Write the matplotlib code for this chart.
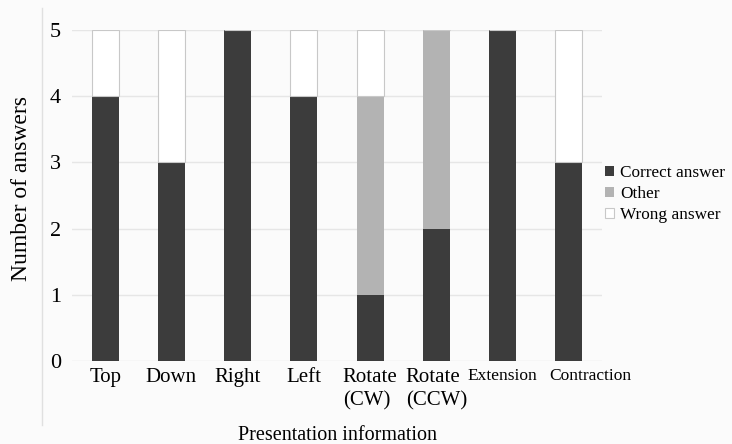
import matplotlib
matplotlib.use("Agg")
import matplotlib.pyplot as plt
import matplotlib.transforms as mtransforms
from matplotlib.lines import Line2D
import numpy as np

categories = ["Top", "Down", "Right", "Left", "Rotate\n(CW)", "Rotate\n(CCW)", "Extension", "Contraction"]
correct = [4, 3, 5, 4, 1, 2, 5, 3]
other = [0, 0, 0, 0, 3, 3, 0, 0]
wrong = [1, 2, 0, 1, 1, 0, 0, 2]

plt.rcParams['font.family'] = ['Liberation Serif', 'DejaVu Serif']

fig = plt.figure(figsize=(7.32, 4.44), dpi=100, facecolor='#fbfbfb')
W, H = 732, 444
ax = fig.add_axes([72 / W, 1 - 361 / H, 530 / W, 331 / H])
ax.set_facecolor('#fbfbfb')

x = np.arange(len(categories))
bw = 0.41
c_correct = np.array(correct)
c_other = np.array(other)
c_wrong = np.array(wrong)
ax.bar(x, c_correct, bw, color='#3c3c3c', label='Correct answer', zorder=3)
ax.bar(x, c_other, bw, bottom=c_correct, color='#b3b3b3', label='Other', zorder=3)
ax.bar(x, c_wrong, bw, bottom=c_correct + c_other, color='white', edgecolor='#c8c8c8',
       linewidth=0.8, label='Wrong answer', zorder=3)

ax.set_xlim(-0.5, len(categories) - 0.5)
ax.set_ylim(0, 5)
ax.set_yticks(range(6))
ax.yaxis.grid(True, color='#e6e6e6', linewidth=1.0, zorder=0)
for s in ax.spines.values():
    s.set_visible(False)
ax.tick_params(axis='both', length=0)
ax.tick_params(axis='y', labelsize=16, pad=8)
ax.set_xticks(x)
shown = [c if c != "Contraction" else "" for c in categories]
ax.set_xticklabels(shown, fontsize=15, linespacing=1.3)
for lbl in ax.get_xticklabels():
    lbl.set_multialignment('left')
    if lbl.get_text() == "Extension":
        lbl.set_fontsize(12.5)
ax.tick_params(axis='x', pad=5)

# Contraction label, nudged right as in the reference
ci = categories.index("Contraction")
trans = mtransforms.blended_transform_factory(ax.transData, ax.transAxes) + \
    mtransforms.ScaledTranslation(21 / 100, -7 / 100, fig.dpi_scale_trans)
ax.text(x[ci], 0, categories[ci], transform=trans, ha='center', va='top', fontsize=12.5)

ax.set_ylabel("Number of answers", fontsize=17)
ax.yaxis.set_label_coords(-0.075, 0.52)
ax.set_xlabel("Presentation information", fontsize=14.5)
ax.xaxis.set_label_coords(0.5, -0.195)

fig.legend(loc='upper left', bbox_to_anchor=(598 / W, 1 - 158 / H), frameon=False,
           fontsize=12.4, handlelength=0.5, handleheight=0.5, handletextpad=0.4,
           labelspacing=0.3, borderaxespad=0)

fig.add_artist(Line2D([42 / W, 42 / W], [1 - 425 / H, 1 - 8 / H], transform=fig.transFigure,
                      color='#e0e0e0', linewidth=1.0))

fig.savefig("out.png", dpi=100, facecolor=fig.get_facecolor())
